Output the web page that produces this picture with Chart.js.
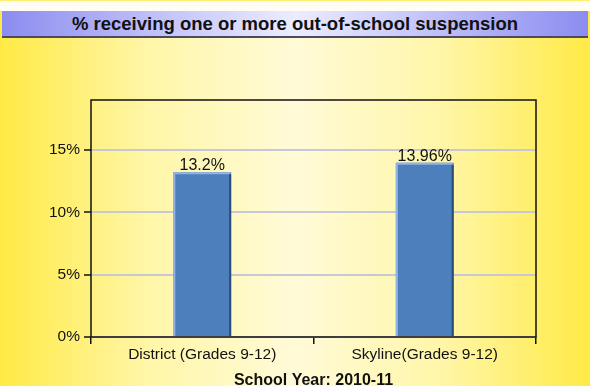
<!DOCTYPE html>
<html>
<head>
<meta charset="utf-8">
<script src="https://cdn.jsdelivr.net/npm/chart.js@4/dist/chart.umd.min.js"></script>
<style>
  html, body { margin: 0; padding: 0; }
  body {
    width: 590px; height: 386px; overflow: hidden; position: relative;
    background: linear-gradient(to right, #ffea45 0%, #fff6a8 25%, #fffbd8 50%, #fff6a8 75%, #ffea45 100%);
    font-family: "Liberation Sans", Arial, sans-serif;
  }
  #topstrip { position: absolute; left: 0; top: 0; width: 590px; height: 11px; background: #fffdf4; border-top: 1px solid #ffee70; box-sizing: border-box; }
  #title {
    position: absolute; left: 2px; top: 11px; width: 586px; height: 27px;
    background: linear-gradient(to right, #8c8cf0 0%, #c8c8fa 30%, #ececff 50%, #c8c8fa 70%, #8c8cf0 100%);
    border-bottom: 2px solid #4a4a60; box-sizing: border-box;
    text-align: center; font-weight: bold; font-size: 18.5px; line-height: 26px; color: #111;
  }
  #wrap { position: absolute; left: 0; top: 38px; width: 590px; height: 348px; }
</style>
</head>
<body>
<div id="topstrip"></div>
<div id="title">% receiving one or more out-of-school suspension</div>
<div id="wrap"><canvas id="chart"></canvas></div>
<script>
// values
const categories = ["District (Grades 9-12)", "Skyline(Grades 9-12)"];
const values = [13.2, 13.96];
const valueLabels = ["13.2%", "13.96%"];
const xTitle = "School Year: 2010-11";

const FONT = "'Liberation Sans', Arial, sans-serif";
const INK = "#111111";

// black frame round the plot area
const frame = {
  id: "frame",
  afterDraw(chart) {
    const { ctx, chartArea: a } = chart;
    ctx.save();
    ctx.strokeStyle = "#111";
    ctx.lineWidth = 1.5;
    ctx.strokeRect(a.left, a.top, a.right - a.left, a.bottom - a.top);
    ctx.restore();
  },
};

// bevelled bars + value labels on top
const bevelAndLabels = {
  id: "bevelAndLabels",
  afterDatasetsDraw(chart) {
    const { ctx } = chart;
    const meta = chart.getDatasetMeta(0);
    ctx.save();
    meta.data.forEach((bar, i) => {
      const l = bar.x - bar.width / 2, r = bar.x + bar.width / 2;
      const t = bar.y, b = bar.base;
      ctx.lineWidth = 2;
      ctx.strokeStyle = "#94b4e2";
      ctx.beginPath();
      ctx.moveTo(l + 1, b); ctx.lineTo(l + 1, t + 1); ctx.lineTo(r - 1, t + 1);
      ctx.stroke();
      ctx.strokeStyle = "#2b4a74";
      ctx.beginPath();
      ctx.moveTo(r - 1, t + 2); ctx.lineTo(r - 1, b);
      ctx.stroke();
      ctx.fillStyle = INK;
      ctx.font = "16px " + FONT;
      ctx.textAlign = "center";
      ctx.textBaseline = "alphabetic";
      ctx.fillText(valueLabels[i], bar.x, t - 2);
    });
    ctx.restore();
  },
};

new Chart(document.getElementById("chart"), {
  type: "bar",
  data: {
    labels: categories,
    datasets: [{
      data: values,
      backgroundColor: "#4d7fbc",
      borderWidth: 0,
      barPercentage: 0.26,
      categoryPercentage: 1,
    }],
  },
  options: {
    responsive: true,
    maintainAspectRatio: false,
    animation: false,
    layout: { padding: { left: 0, right: 54, top: 62, bottom: 0 } },
    scales: {
      x: {
        afterFit(s) { s.height = 49; },
        grid: { display: true, drawOnChartArea: false, tickLength: 7, color: "#111", lineWidth: 1.5 },
        border: { display: false },
        ticks: { color: INK, font: { family: FONT, size: 15.5 }, padding: 1 },
        title: { display: true, text: xTitle, color: INK, font: { family: FONT, size: 16, weight: "bold" }, padding: { top: 4, bottom: -4 } },
      },
      y: {
        min: 0,
        max: 19,
        afterFit(s) { s.width = 91; },
        afterBuildTicks(s) { s.ticks = [0, 5, 10, 15].map(v => ({ value: v })); },
        grid: { color: "#c6c8d4", lineWidth: 2, tickLength: 7, tickColor: "#111", tickWidth: 1.5 },
        border: { display: false },
        ticks: { color: INK, font: { family: FONT, size: 15.5 }, padding: 4, callback: v => v + "%" },
      },
    },
    plugins: { legend: { display: false }, tooltip: { enabled: false } },
  },
  plugins: [frame, bevelAndLabels],
});
</script>
</body>
</html>
